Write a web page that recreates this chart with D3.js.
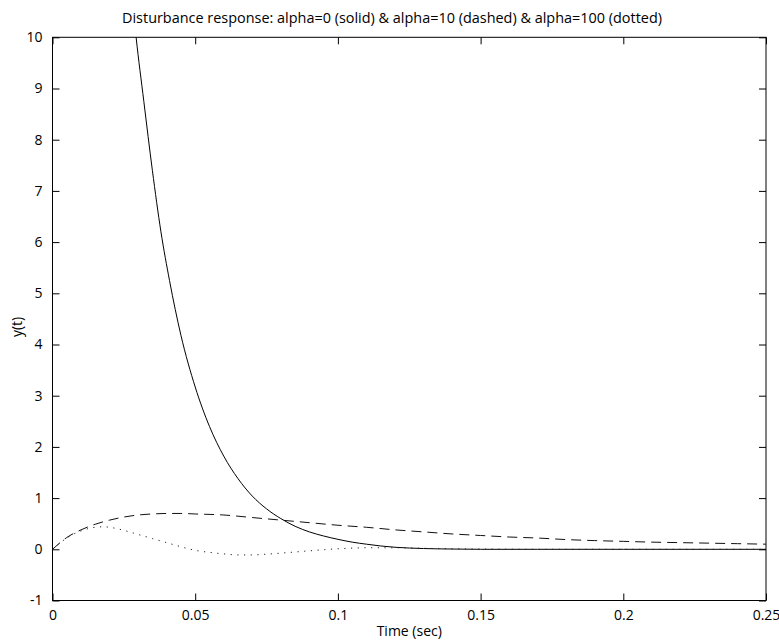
<!DOCTYPE html>
<html>
<head>
<meta charset="utf-8">
<script src="https://cdn.jsdelivr.net/npm/d3@7/dist/d3.min.js"></script>
<style>
  html, body { margin: 0; padding: 0; background: #fff; }
  svg { display: block; }
  text { font-family: "Open Sans", "Noto Sans", sans-serif; fill: #000; }
</style>
</head>
<body>
<svg id="chart" width="779" height="640"></svg>
<script>
// ---- data ----
const titleText = "Disturbance response: alpha=0 (solid) & alpha=10 (dashed) & alpha=100 (dotted)";
const xLabel = "Time (sec)";
const yLabel = "y(t)";
const xTicks = [0, 0.05, 0.1, 0.15, 0.2, 0.25];
const xTickLabels = ["0", "0.05", "0.1", "0.15", "0.2", "0.25"];
const yTicks = [-1, 0, 1, 2, 3, 4, 5, 6, 7, 8, 9, 10];
const yTickLabels = ["-1", "0", "1", "2", "3", "4", "5", "6", "7", "8", "9", "10"];

// alpha = 0 (solid)
const solidT = [0.025, 0.0293, 0.032, 0.035, 0.038, 0.041, 0.045, 0.05, 0.055, 0.06, 0.065, 0.07, 0.075, 0.08, 0.085, 0.09, 0.095, 0.1, 0.105, 0.11, 0.115, 0.12, 0.13, 0.14, 0.15, 0.17, 0.2, 0.25];
const solidY = [12.7, 10.0, 8.75, 7.4, 6.2, 5.25, 4.18, 3.17, 2.40, 1.82, 1.38, 1.04, 0.79, 0.60, 0.45, 0.34, 0.26, 0.195, 0.14, 0.10, 0.065, 0.04, 0.015, 0.005, 0.0, 0.0, 0.0, 0.0];

// alpha = 10 (dashed)
const dashedT = [0, 0.005, 0.01, 0.015, 0.02, 0.025, 0.03, 0.035, 0.04, 0.045, 0.05, 0.06, 0.07, 0.08, 0.09, 0.1, 0.11, 0.12, 0.13, 0.14, 0.15, 0.16, 0.17, 0.18, 0.19, 0.2, 0.21, 0.22, 0.23, 0.24, 0.25];
const dashedY = [0, 0.23, 0.38, 0.49, 0.57, 0.63, 0.67, 0.69, 0.70, 0.70, 0.69, 0.67, 0.62, 0.57, 0.52, 0.47, 0.43, 0.38, 0.34, 0.30, 0.27, 0.24, 0.22, 0.19, 0.17, 0.155, 0.14, 0.13, 0.12, 0.11, 0.10];

// alpha = 100 (dotted)
const dottedT = [0, 0.005, 0.01, 0.015, 0.018, 0.02, 0.025, 0.03, 0.035, 0.04, 0.045, 0.05, 0.055, 0.06, 0.065, 0.07, 0.075, 0.08, 0.09, 0.1, 0.11, 0.12, 0.13, 0.14, 0.15, 0.17, 0.2, 0.25];
const dottedY = [0, 0.22, 0.36, 0.43, 0.44, 0.43, 0.37, 0.29, 0.21, 0.13, 0.05, -0.02, -0.06, -0.09, -0.11, -0.11, -0.095, -0.075, -0.03, 0.01, 0.03, 0.03, 0.02, 0.01, 0.005, 0, 0, 0];

// ---- layout ----
const svg = d3.select("#chart");
const L = 52.5, R = 766, T = 37.3, B = 600.5;
const x = d3.scaleLinear().domain([0, 0.25]).range([L, R]);
const y = d3.scaleLinear().domain([-1, 10]).range([B, T]);
const tickLen = 7;

svg.append("defs").append("clipPath").attr("id", "plotclip")
  .append("rect").attr("x", L).attr("y", T).attr("width", R - L).attr("height", B - T);

// axes (box with inward ticks on all sides)
const axB = d3.axisBottom(x).tickValues(xTicks).tickSizeInner(-tickLen).tickSizeOuter(0)
  .tickPadding(10).tickFormat((d, i) => xTickLabels[i]);
const axT = d3.axisTop(x).tickValues(xTicks).tickSizeInner(-tickLen).tickSizeOuter(0).tickFormat("");
const axL = d3.axisLeft(y).tickValues(yTicks).tickSizeInner(-tickLen).tickSizeOuter(0)
  .tickPadding(10).tickFormat((d, i) => yTickLabels[i]);
const axR = d3.axisRight(y).tickValues(yTicks).tickSizeInner(-tickLen).tickSizeOuter(0).tickFormat("");

function styleAxis(g) {
  g.select(".domain").remove();
  g.selectAll(".tick line").attr("stroke", "#000").attr("stroke-width", 1);
  g.selectAll(".tick text").attr("font-size", 14).attr("font-family", "'Open Sans', 'Noto Sans', sans-serif").attr("fill", "#000");
}
svg.append("g").attr("transform", `translate(0,${B})`).call(axB).call(styleAxis);
svg.append("g").attr("transform", `translate(0,${T})`).call(axT).call(styleAxis);
svg.append("g").attr("transform", `translate(${L},0)`).call(axL).call(styleAxis);
svg.append("g").attr("transform", `translate(${R},0)`).call(axR).call(styleAxis);

svg.append("rect").attr("x", L).attr("y", T).attr("width", R - L).attr("height", B - T)
  .attr("fill", "none").attr("stroke", "#000").attr("stroke-width", 1);

// lines
const line = d3.line().x(d => x(d[0])).y(d => y(d[1])).curve(d3.curveMonotoneX);
const plot = svg.append("g").attr("clip-path", "url(#plotclip)");

plot.append("path").datum(d3.zip(solidT, solidY)).attr("d", line)
  .attr("fill", "none").attr("stroke", "#000").attr("stroke-width", 1);
plot.append("path").datum(d3.zip(dashedT, dashedY)).attr("d", line)
  .attr("fill", "none").attr("stroke", "#111").attr("stroke-width", 1)
  .attr("stroke-dasharray", "10,6");
plot.append("path").datum(d3.zip(dottedT, dottedY)).attr("d", line)
  .attr("fill", "none").attr("stroke", "#222").attr("stroke-width", 1)
  .attr("stroke-dasharray", "1.2,5.5");

// texts
svg.append("text").attr("x", 392).attr("y", 23).attr("text-anchor", "middle")
  .attr("font-size", 14).attr("textLength", 540).attr("lengthAdjust", "spacingAndGlyphs")
  .text(titleText);
svg.append("text").attr("x", (L + R) / 2).attr("y", 636).attr("text-anchor", "middle")
  .attr("font-size", 14).text(xLabel);
svg.append("text").attr("transform", `translate(22,${(T + B) / 2 + 8}) rotate(-90)`)
  .attr("text-anchor", "middle").attr("font-size", 14).text(yLabel);
</script>
</body>
</html>
